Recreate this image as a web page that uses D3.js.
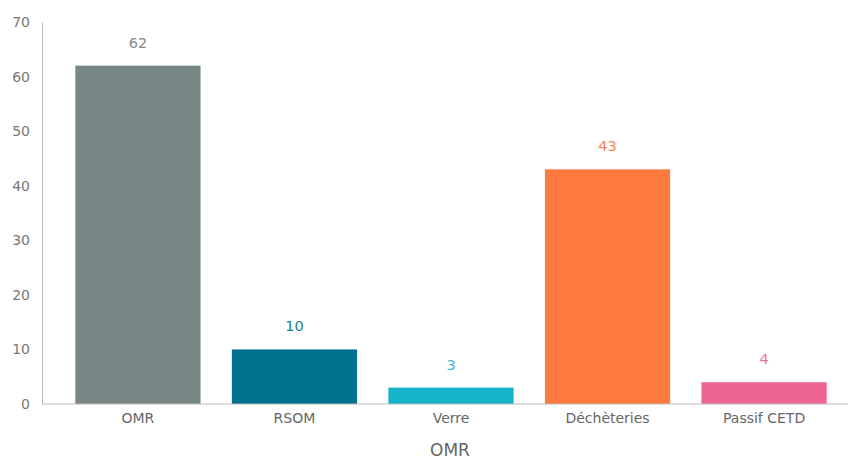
<!DOCTYPE html>
<html><head><meta charset="utf-8">
<script src="https://cdn.jsdelivr.net/npm/d3@7"></script>
<style>body{margin:0;background:#fff}svg{display:block;font-family:"DejaVu Sans",sans-serif}</style>
</head><body><svg id="c" width="848" height="459"></svg>
<script>
const categories = ["OMR","RSOM","Verre","Déchèteries","Passif CETD"];
const values = [62,10,3,43,4];
const colors = ["#778786","#00708f","#15b3c8","#fd7a3e","#ee6494"];
const labelColors = ["#888888","#1a7d98","#3bbacb","#f4845a","#ec6f98"];
const yTicks = [0,10,20,30,40,50,60,70];
const xTitle = "OMR";

const svg = d3.select("#c");
const x = d3.scaleBand().domain(categories).range([44,858]).paddingInner(0.2).paddingOuter(0.2);
const y = d3.scaleLinear().domain([0,70]).range([404,22]);

svg.selectAll("rect.bar").data(values).join("rect")
  .attr("x",(d,i)=>x(categories[i])).attr("width",x.bandwidth())
  .attr("y",d=>y(d)).attr("height",d=>y(0)-y(d)).attr("fill",(d,i)=>colors[i]);

svg.selectAll("text.val").data(values).join("text")
  .attr("x",(d,i)=>x(categories[i])+x.bandwidth()/2).attr("y",d=>y(d)-18)
  .attr("text-anchor","middle").attr("font-size",14.5).attr("fill",(d,i)=>labelColors[i]).text(d=>d);

const ya = svg.append("g").attr("transform","translate(42,0)")
  .call(d3.axisLeft(y).tickValues(yTicks).tickSize(0).tickPadding(12));
ya.select(".domain").attr("stroke","#bbbbbb");
ya.selectAll("text").attr("font-size",14).attr("fill","#777").attr("font-family","DejaVu Sans,sans-serif");

const xa = svg.append("g").attr("transform","translate(0,404)")
  .call(d3.axisBottom(x).tickSize(0).tickPadding(9));
xa.select(".domain").attr("d","M42,0H848").attr("stroke","#bbbbbb");
xa.selectAll("text").attr("font-size",14).attr("fill","#666").attr("font-family","DejaVu Sans,sans-serif");

svg.append("text").attr("x",450).attr("y",456).attr("text-anchor","middle")
  .attr("font-size",17).attr("fill","#666").text(xTitle);
</script></body></html>
